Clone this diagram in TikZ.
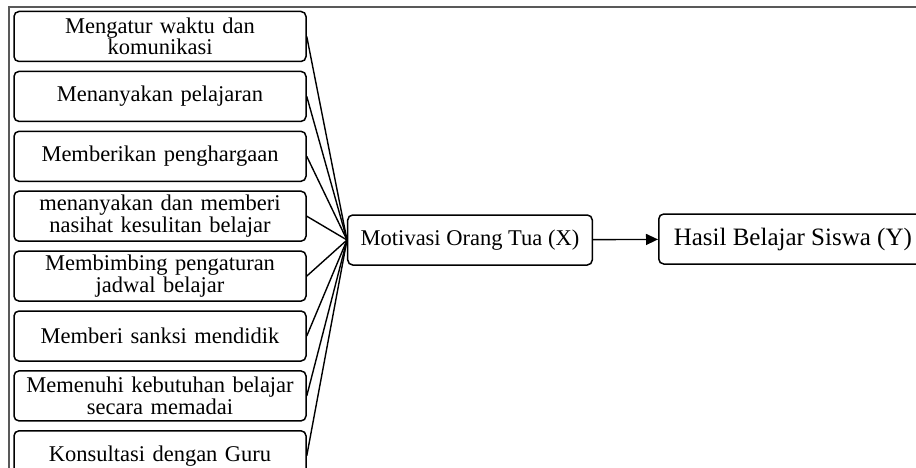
\documentclass[tikz,border=0pt]{standalone}
\usepackage{fontspec}
\setmainfont{Liberation Serif}
\usetikzlibrary{arrows.meta, positioning}

\begin{document}
\begin{tikzpicture}[%
	x=1pt, y=-1pt,
	node distance=8.4pt,        % gap between the indicator boxes
	every node/.style={font=\fontsize{22.5}{21.5}\selectfont},
	]
	% -------------------------------------------------
	% Box and line styles
	\tikzset{
		base/.style={draw, line width=1.5pt, rounded corners=5pt, align=center},
		item/.style={base, text width=280pt, inner xsep=6pt, inner ysep=1pt, minimum height=50pt},
		var/.style={base, minimum height=50pt, inner xsep=13pt},
		link/.style={draw, line width=1.4pt},
		frame/.style={draw=black!65, line width=1.6pt}
	}
	\useasboundingbox (0,0) rectangle (916,468);

	% frame of the page
	\draw[frame] (9,468) -- (9,7) -- (916,7);

	% indicators
	\node[item] (i1) at (160,36.5) {Mengatur waktu dan\\komunikasi};
	\node[item, below=of i1] (i2) {Menanyakan pelajaran};
	\node[item, below=of i2] (i3) {Memberikan penghargaan};
	\node[item, below=of i3] (i4) {menanyakan dan memberi\\nasihat kesulitan belajar};
	\node[item, below=of i4] (i5) {Membimbing pengaturan\\jadwal belajar};
	\node[item, below=of i5] (i6) {Memberi sanksi mendidik};
	\node[item, below=of i6] (i7) {Memenuhi kebutuhan belajar\\secara memadai};
	\node[item, below=of i7] (i8) {Konsultasi dengan Guru};

	% variables
	\node[var] (x) at (470,240) {Motivasi Orang Tua (X)};
	\node[var, anchor=west, inner xsep=15pt, font=\fontsize{25}{26}\selectfont] (y) at (658,239) {Hasil Belajar Siswa (Y)};

	\draw[link] (i1.east) -- (x.west);
	\draw[link] (i2.east) -- (x.west);
	\draw[link] (i3.east) -- (x.west);
	\draw[link] (i4.east) -- (x.west);
	\draw[link] (i5.east) -- (x.west);
	\draw[link] (i6.east) -- (x.west);
	\draw[link] (i7.east) -- (x.west);
	\draw[link] (i8.east) -- (x.west);
	\draw[link, -{Triangle[length=12pt, width=11pt]}] (x) -- (y);

\end{tikzpicture}
\end{document}
